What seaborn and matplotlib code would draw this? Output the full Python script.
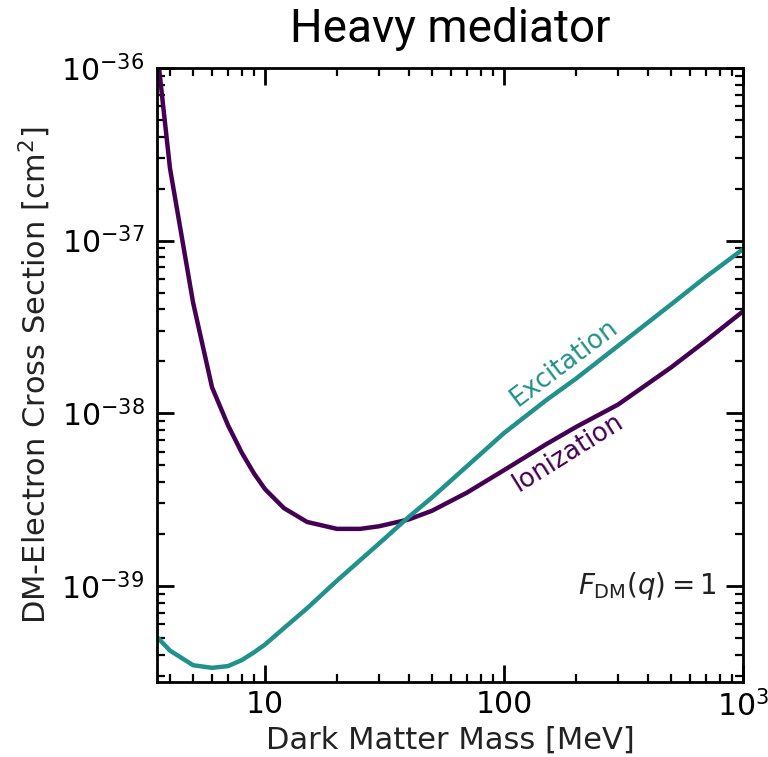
import numpy as np
import pandas as pd
import seaborn as sns
import matplotlib
matplotlib.use("Agg")
import matplotlib.pyplot as plt
from matplotlib.ticker import LogLocator, NullFormatter

# Dark matter mass grid [MeV] and log10 of the cross-section limits [cm^2]
ion_mass = [3.6, 4.0, 5.0, 6.0, 7.0, 8.0, 9.0, 10, 12, 15, 20, 25, 30, 40, 50,
            70, 100, 150, 200, 300, 500, 700, 1000]
ion_logsigma = [-36.0, -36.58, -37.36, -37.85, -38.07, -38.23, -38.35, -38.44,
                -38.55, -38.63, -38.67, -38.67, -38.655, -38.615, -38.565,
                -38.46, -38.33, -38.18, -38.08, -37.95, -37.735, -37.58, -37.41]

exc_mass = [3.55, 4.0, 5.0, 6.0, 7.0, 8.0, 9.0, 10, 12, 15, 20, 30, 40, 50,
            70, 100, 150, 200, 300, 500, 700, 1000]
exc_logsigma = [-39.30, -39.375, -39.46, -39.475, -39.465, -39.43, -39.385,
                -39.34, -39.245, -39.13, -38.97, -38.755, -38.60, -38.488,
                -38.307, -38.115, -37.925, -37.80, -37.61, -37.37, -37.21,
                -37.05]

channels = ["Ionization", "Excitation"]
colors = {"Ionization": "#440154", "Excitation": "#21918c"}

x_ticks = [10, 100, 1000]
x_ticklabels = ["10", "100", r"$10^3$"]

df = pd.concat([
    pd.DataFrame({"mass": ion_mass, "sigma": np.power(10.0, ion_logsigma),
                  "channel": "Ionization"}),
    pd.DataFrame({"mass": exc_mass, "sigma": np.power(10.0, exc_logsigma),
                  "channel": "Excitation"}),
], ignore_index=True)

sns.set_theme(style="ticks")
plt.rcParams["font.family"] = ["DejaVu Sans"]
plt.rcParams["mathtext.fontset"] = "dejavusans"

fig = plt.figure(figsize=(7.68, 7.57), dpi=100)
ax = fig.add_axes([0.2044, 0.0991, 0.7630, 0.8111])

sns.lineplot(data=df, x="mass", y="sigma", hue="channel", hue_order=channels,
             palette=colors, linewidth=3.2, legend=False, ax=ax,
             estimator=None, sort=False)

ax.set_xscale("log")
ax.set_yscale("log")
ax.set_xlim(3.53, 1000)
ax.set_ylim(10 ** -39.557, 1e-36)

ax.set_xticks(x_ticks)
ax.set_xticklabels(x_ticklabels)
ax.xaxis.set_minor_locator(LogLocator(base=10, subs=np.arange(2, 10), numticks=20))
ax.xaxis.set_minor_formatter(NullFormatter())
ax.yaxis.set_major_locator(LogLocator(base=10, numticks=10))
ax.yaxis.set_minor_locator(LogLocator(base=10, subs=np.arange(2, 10), numticks=20))
ax.yaxis.set_minor_formatter(NullFormatter())

for s in ax.spines.values():
    s.set_linewidth(2.0)
    s.set_color("black")
    s.set_visible(True)

ax.tick_params(which="both", direction="in", top=True, right=True,
               colors="black", labelsize=21.5)
ax.tick_params(which="major", length=12, width=2.0, pad=9)
ax.tick_params(which="minor", length=6, width=1.6)
ax.tick_params(axis="x", which="major", pad=6)

ax.set_xlabel("Dark Matter Mass [MeV]", fontsize=22, labelpad=2,
              color="#222222")
ax.set_ylabel(r"DM-Electron Cross Section [cm$^2$]", fontsize=22, labelpad=6,
              color="#222222")
ax.set_title("Heavy mediator", fontsize=33, family=["Roboto", "DejaVu Sans"],
             fontweight="normal", pad=19, color="black")

ax.text(178, 10 ** -37.71, "Excitation", color=colors["Excitation"],
        fontsize=18.5, rotation=37, ha="center", va="center")
ax.text(186, 10 ** -38.23, "Ionization", color=colors["Ionization"],
        fontsize=18.5, rotation=32, ha="center", va="center")
ax.text(0.955, 0.157, r"$F_{\rm DM}(q) = 1$", transform=ax.transAxes,
        fontsize=20, ha="right", va="center", color="#222222")

fig.savefig("out.png", dpi=100)
